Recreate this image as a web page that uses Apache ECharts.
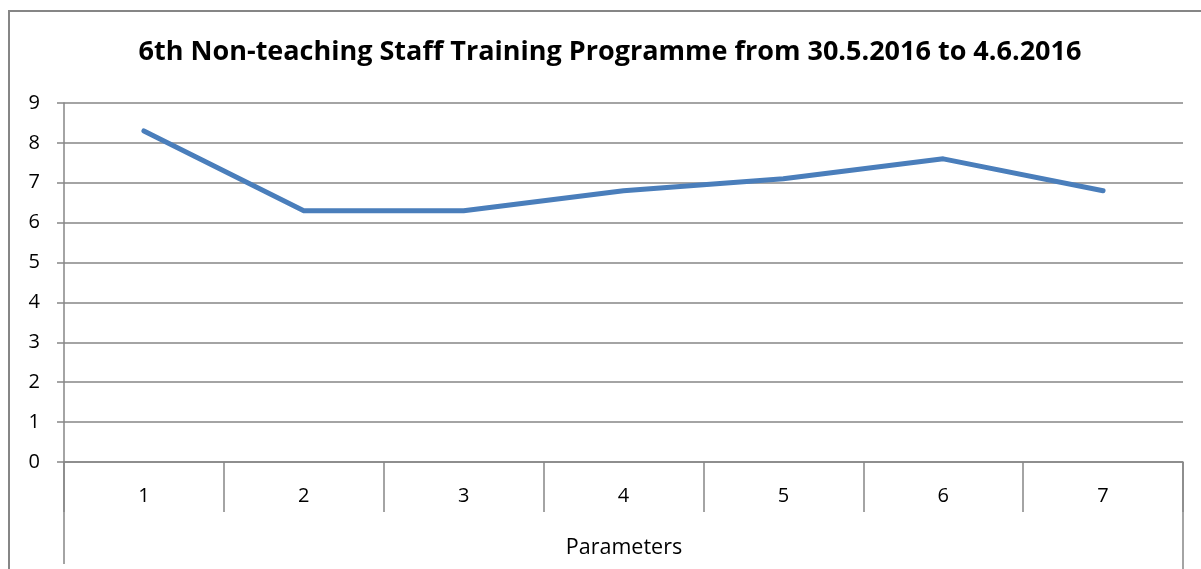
<!DOCTYPE html>
<html>
<head>
<meta charset="utf-8">
<script src="https://cdn.jsdelivr.net/npm/echarts@6/dist/echarts.min.js"></script>
<style>
html,body{margin:0;padding:0;background:#fff;}
#chart{width:1201px;height:569px;}
</style>
</head>
<body>
<div id="chart"></div>
<script>
const titleText = "6th Non-teaching Staff Training Programme from 30.5.2016 to 4.6.2016";
const categories = ["1", "2", "3", "4", "5", "6", "7"];
const values = [8.3, 6.3, 6.3, 6.8, 7.1, 7.6, 6.8];
const axisGroupLabel = "Parameters";
const yMin = 0, yMax = 9, yStep = 1;

const gridColor = "#868686";
const font = "Open Sans";
const chart = echarts.init(document.getElementById('chart'));
const G = {left: 64, right: 18, top: 103, bottom: 107};

chart.setOption({
  animation: false,
  grid: G,
  xAxis: {
    type: 'category', data: categories, boundaryGap: true,
    axisLine: {show: true, lineStyle: {color: gridColor, width: 1.5}},
    axisTick: {show: true, interval: 0, length: 50, inside: false, lineStyle: {color: gridColor, width: 1.5}},
    axisLabel: {margin: 24, fontFamily: font, fontSize: 20, color: '#000'},
    splitLine: {show: false}
  },
  yAxis: {
    type: 'value', min: yMin, max: yMax, interval: yStep,
    axisLine: {show: true, lineStyle: {color: gridColor, width: 1.5}},
    axisTick: {show: true, length: 7, lineStyle: {color: gridColor, width: 1.5}},
    axisLabel: {margin: 24, fontFamily: font, fontSize: 20, color: '#000'},
    splitLine: {show: true, lineStyle: {color: gridColor, width: 1.5}}
  },
  series: [{
    type: 'line', data: values, symbol: 'none',
    lineStyle: {color: '#4A7EBB', width: 5, cap: 'round', join: 'round'}
  }],
  graphic: [
    {type: 'rect', shape: {x: 9, y: 11, width: 1300, height: 700}, style: {fill: 'none', stroke: gridColor, lineWidth: 2}, silent: true},
    {type: 'line', shape: {x1: 64, y1: 462, x2: 64, y2: 564}, style: {stroke: gridColor, lineWidth: 1.5}},
    {type: 'line', shape: {x1: 1183, y1: 462, x2: 1183, y2: 569}, style: {stroke: gridColor, lineWidth: 1.5}},
    {type: 'text', x: 610, y: 52, style: {text: titleText, fontFamily: font, fontWeight: 'bold', fontSize: 27, fill: '#000', align: 'center', verticalAlign: 'middle'}},
    {type: 'text', x: 624, y: 548, style: {text: axisGroupLabel, fontFamily: font, fontSize: 21.5, fill: '#000', align: 'center', verticalAlign: 'middle'}}
  ]
});
</script>
</body>
</html>
